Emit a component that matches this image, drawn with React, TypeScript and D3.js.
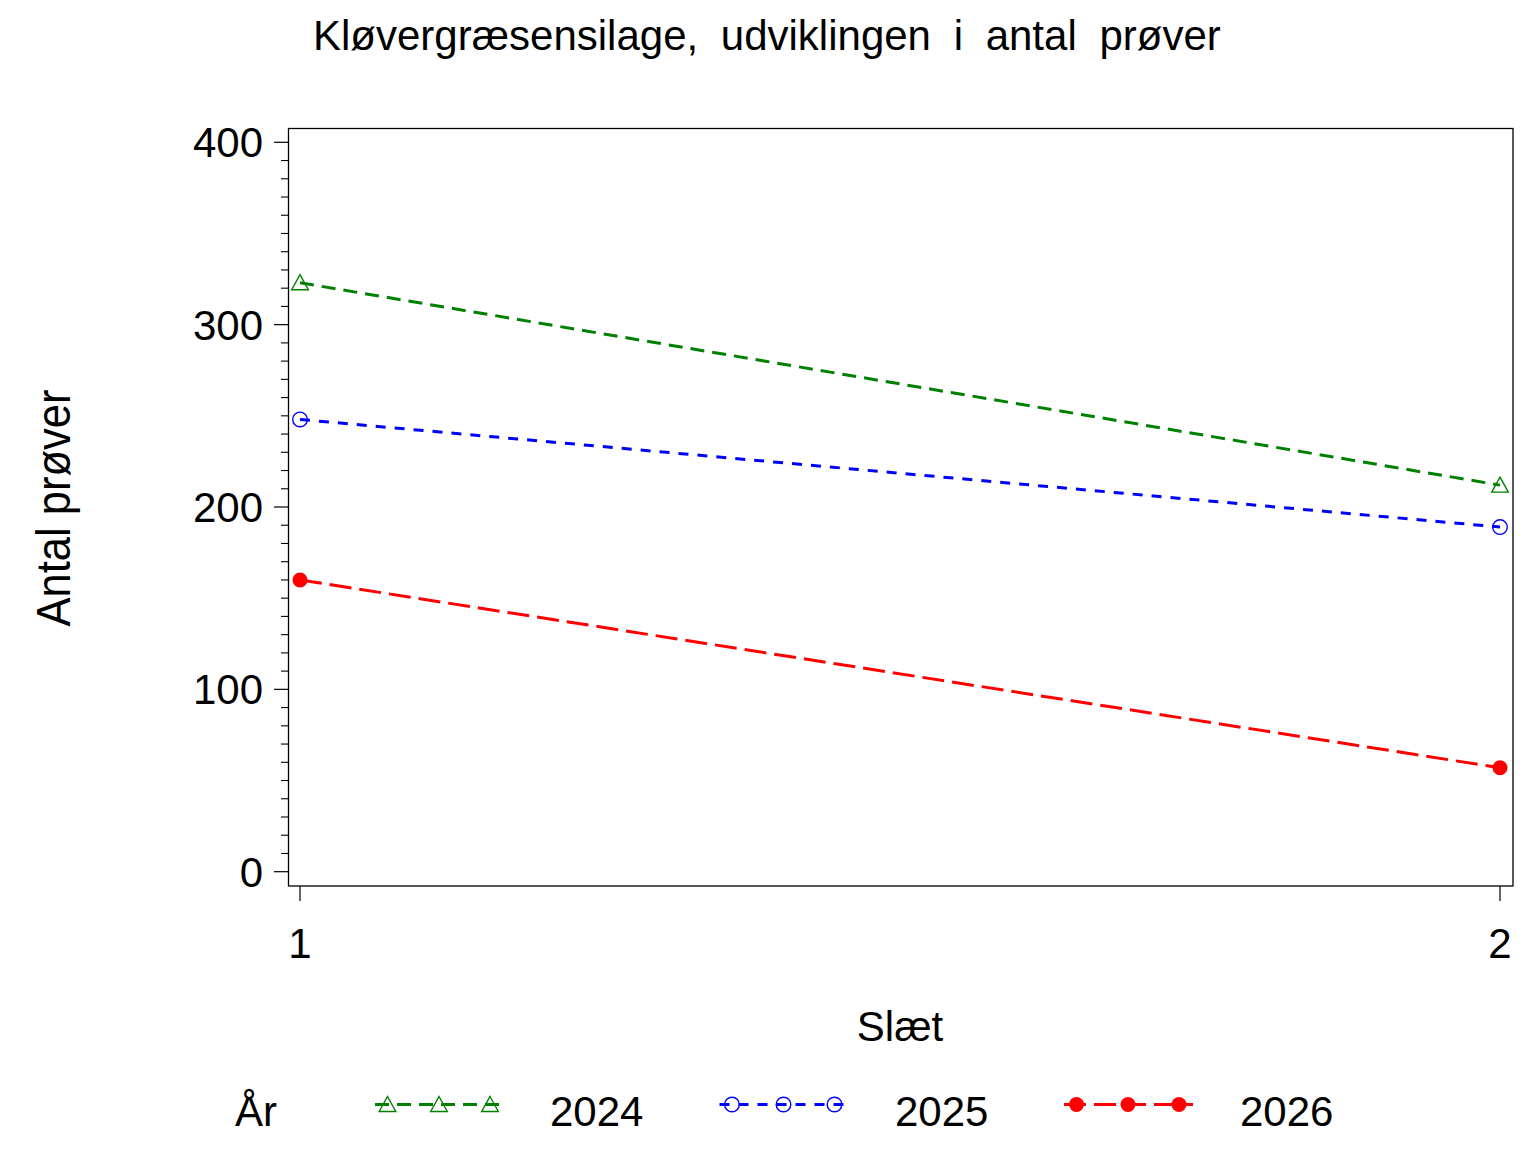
import React from "react";
import * as d3 from "d3";

const slaet = [1, 2];
const xTickLabels = ["1", "2"];
const yMajorTicks = [0, 100, 200, 300, 400];
const years = ["2024", "2025", "2026"];
const values2024 = [323, 212];
const values2025 = [248, 189];
const values2026 = [160, 57];
const seriesValues = [values2024, values2025, values2026];

const colors = ["#008000", "#0000FF", "#FF0000"];
const dashes = ["14 8", "10 9", "22 8"];
const markerKinds = ["triangle", "circle", "dot"];

const FONT = "'Liberation Sans', Arial, Helvetica, sans-serif";

function Marker({ kind, x, y, color }: { kind: string; x: number; y: number; color: string }) {
  if (kind === "triangle") {
    const path = d3.path();
    path.moveTo(x, y - 8);
    path.lineTo(x + 8.3, y + 7);
    path.lineTo(x - 8.3, y + 7);
    path.closePath();
    return <path d={path.toString()} fill="none" stroke={color} strokeWidth={1.4} />;
  }
  if (kind === "circle") {
    return <circle cx={x} cy={y} r={7.3} fill="none" stroke={color} strokeWidth={1.4} />;
  }
  return <circle cx={x} cy={y} r={7.5} fill={color} stroke="none" />;
}

export default function App() {
  const W = 1536;
  const H = 1152;
  const frame = { left: 288.5, top: 128.5, right: 1513, bottom: 886 };
  const x = d3.scaleLinear().domain([1, 2]).range([300, 1500]);
  const y = d3.scaleLinear().domain([0, 400]).range([871.7, 142.3]);
  const minorTicks = d3.range(0, 401, 10).filter((v) => v % 100 !== 0);
  const line = d3
    .line<number>()
    .x((_, i) => x(slaet[i]))
    .y((v) => y(v));

  const legendStarts = [375, 719.5, 1064];
  const legendTextX = [550, 895, 1240];
  const legendY = 1104.5;
  const legendLen = 129;
  const legendMarkerOffsets = [12.5, 64, 115];

  return (
    <svg
      width={W}
      height={H}
      style={{ position: "absolute", left: 0, top: 0, background: "#fff" }}
      fontFamily={FONT}
    >
      <rect x={0} y={0} width={W} height={H} fill="#fff" />
      {/* Title */}
      <text x={313} y={50} fontSize={42} style={{ wordSpacing: "11px" }} fill="#000">
        Kløvergræsensilage, udviklingen i antal prøver
      </text>

      {/* Frame */}
      <rect
        x={frame.left}
        y={frame.top}
        width={frame.right - frame.left}
        height={frame.bottom - frame.top}
        fill="none"
        stroke="#000"
        strokeWidth={1.3}
      />

      {/* Y axis ticks */}
      {yMajorTicks.map((v) => (
        <g key={"maj" + v}>
          <line x1={274} x2={frame.left} y1={y(v)} y2={y(v)} stroke="#000" strokeWidth={1.2} />
          <text x={263} y={y(v) + 15} fontSize={42} textAnchor="end" fill="#000">
            {String(v)}
          </text>
        </g>
      ))}
      {minorTicks.map((v) => (
        <line key={"min" + v} x1={281} x2={frame.left} y1={y(v)} y2={y(v)} stroke="#000" strokeWidth={1.1} />
      ))}

      {/* X axis ticks */}
      {slaet.map((s, i) => (
        <g key={"x" + s}>
          <line x1={x(s)} x2={x(s)} y1={frame.bottom} y2={901} stroke="#000" strokeWidth={1.2} />
          <text x={x(s)} y={958} fontSize={42} textAnchor="middle" fill="#000">
            {xTickLabels[i]}
          </text>
        </g>
      ))}

      {/* Axis labels */}
      <text x={900} y={1041} fontSize={42} textAnchor="middle" fill="#000">
        Slæt
      </text>
      <text
        transform={`translate(69.5, ${(y(0) + y(400)) / 2 + 1}) rotate(-90)`}
        fontSize={48}
        textAnchor="middle"
        textLength={237}
        lengthAdjust="spacingAndGlyphs"
        fill="#000"
      >
        Antal prøver
      </text>

      {/* Series */}
      {seriesValues.map((vals, si) => (
        <g key={"s" + si}>
          <path
            d={line(vals) || ""}
            fill="none"
            stroke={colors[si]}
            strokeWidth={3}
            strokeDasharray={dashes[si]}
          />
          {vals.map((v, i) => (
            <Marker key={i} kind={markerKinds[si]} x={x(slaet[i])} y={y(v)} color={colors[si]} />
          ))}
        </g>
      ))}

      {/* Legend */}
      <text x={235} y={1126} fontSize={42} fill="#000">
        År
      </text>
      {years.map((yr, si) => (
        <g key={"leg" + yr}>
          <line
            x1={legendStarts[si]}
            x2={legendStarts[si] + legendLen}
            y1={legendY}
            y2={legendY}
            stroke={colors[si]}
            strokeWidth={3}
            strokeDasharray={dashes[si]}
          />
          {legendMarkerOffsets.map((o, k) => (
            <Marker key={k} kind={markerKinds[si]} x={legendStarts[si] + o} y={legendY} color={colors[si]} />
          ))}
          <text x={legendTextX[si]} y={1126} fontSize={42} fill="#000">
            {yr}
          </text>
        </g>
      ))}
    </svg>
  );
}
